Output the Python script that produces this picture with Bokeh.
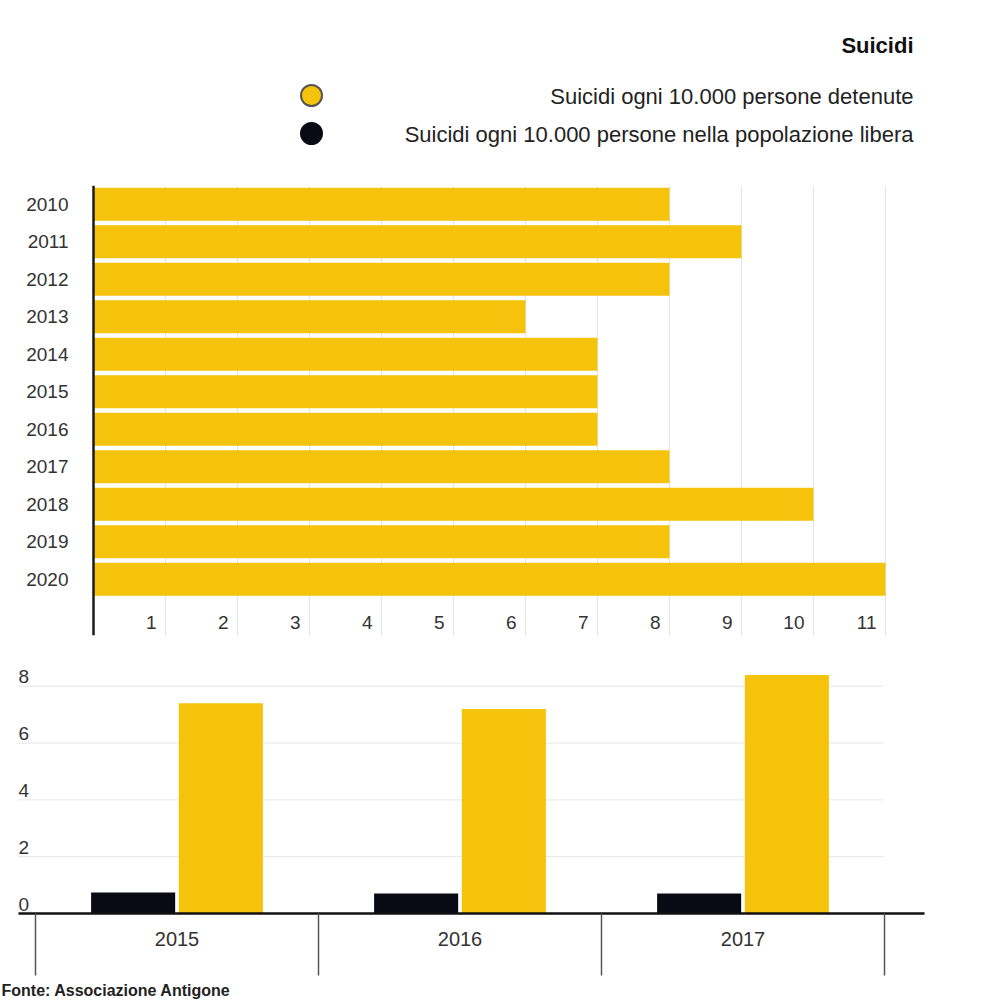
from bokeh.plotting import figure
from bokeh.layouts import column
from bokeh.models import Range1d, FactorRange, FixedTicker, Grid, Span
from bokeh.core.properties import value
from bokeh.embed import file_html
from bokeh.resources import INLINE

# ---------------- data ----------------
title = "Suicidi"
series_names = ["Suicidi ogni 10.000 persone detenute",
                "Suicidi ogni 10.000 persone nella popolazione libera"]
series_colors = ["#F5C30C", "#0A0A14"]

years = ["2010", "2011", "2012", "2013", "2014", "2015",
         "2016", "2017", "2018", "2019", "2020"]
rate_detenuti = [8, 9, 8, 6, 7, 7, 7, 8, 10, 8, 11]
x_ticks = [1, 2, 3, 4, 5, 6, 7, 8, 9, 10, 11]
x_tick_labels = ["1", "2", "3", "4", "5", "6", "7", "8", "9", "10", "11"]

cmp_years = ["2015", "2016", "2017"]
cmp_detenuti = [7.4, 7.2, 8.4]
cmp_libera = [0.74, 0.7, 0.7]
cmp_ticks = [2, 4, 6, 8]
cmp_tick_labels = ["0", "2", "4", "6", "8"]
cmp_label_values = [0, 2, 4, 6, 8]

source_text = "Fonte: Associazione Antigone"

FONT = "Liberation Sans"
TXT = "#333333"
YELLOW, BLACK = series_colors
W = 991

# ---------------- header (title + legend) ----------------
h = figure(width=W, height=170, x_range=Range1d(0, W), y_range=Range1d(170, 0),
           x_axis_type=None, y_axis_type=None, min_border=0,
           output_backend="svg", toolbar_location=None)
h.grid.visible = False
h.outline_line_color = None
h.text(x=[913], y=[45], text=[title], text_align="right", text_baseline="middle",
       text_font=value(FONT), text_font_style="bold", text_font_size="22px", text_color="#111111")
h.scatter(x=[311, 311], y=[95, 133], size=21, fill_color=series_colors,
          line_color=["#555555", BLACK], line_width=2)
h.text(x=[913, 913], y=[96, 134], text=series_names, text_align="right", text_baseline="middle",
       text_font=value(FONT), text_font_size="22px", text_color="#222222")

# ---------------- top: horizontal bars ----------------
UX = 72.0  # px per unit
factors = [" "] + years[::-1]
p1 = figure(width=W, height=475,
            x_range=Range1d(-93 / UX, (W - 93) / UX),
            y_range=FactorRange(factors=factors, range_padding=0),
            x_axis_type=None, y_axis_type=None,
            min_border_left=0, min_border_right=0, min_border_top=15, min_border_bottom=10,
            output_backend="svg", toolbar_location=None)
p1.outline_line_color = None
p1.add_layout(Grid(dimension=0, ticker=FixedTicker(ticks=x_ticks),
                   grid_line_color="#e4e4e4", grid_line_width=1))
p1.hbar(y=years, left=0, right=rate_detenuti, height=0.88, fill_color=YELLOW, line_color=None)
p1.add_layout(Span(location=0, dimension="height", line_color="#1a1a1a", line_width=2.5))
p1.text(x=[0] * len(years), y=years, text=years, text_align="right", text_baseline="middle",
        x_offset=-25, text_font=value(FONT), text_font_size="19px", text_color=TXT)
p1.text(x=x_ticks, y=[" "] * len(x_ticks), text=x_tick_labels, text_align="right",
        text_baseline="middle", x_offset=-9, y_offset=6,
        text_font=value(FONT), text_font_size="19px", text_color=TXT)

# ---------------- bottom: grouped vertical bars ----------------
PXX = 283.0   # px per category
PXY = 28.4    # px per unit
x0 = -0.5 - 35 / PXX
x1 = x0 + W / PXX
y_top = (913 - 645) / PXY
y_bot = -(1000 - 913) / PXY
p2 = figure(width=W, height=355, x_range=Range1d(x0, x1), y_range=Range1d(y_bot, y_top),
            x_axis_type=None, y_axis_type=None, min_border=0,
            output_backend="svg", toolbar_location=None)
p2.grid.visible = False
p2.outline_line_color = None

left_edge = x0 + 18 / PXX
grid_end = 2.5 - 1 / PXX
base_end = 2.5 + 40 / PXX
n = len(cmp_years)
xs = list(range(n))

p2.segment(x0=[left_edge] * len(cmp_ticks), x1=[grid_end] * len(cmp_ticks), y0=cmp_ticks, y1=cmp_ticks,
           line_color="#e6e6e6", line_width=1)
p2.text(x=[left_edge] * len(cmp_label_values), y=cmp_label_values, text=cmp_tick_labels,
        text_align="left", text_baseline="bottom", y_offset=-3,
        text_font=value(FONT), text_font_size="19px", text_color=TXT)

off, bw = 0.155, 0.297
p2.vbar(x=[i - off for i in xs], bottom=0, top=cmp_libera, width=bw, fill_color=BLACK, line_color=None)
p2.vbar(x=[i + off for i in xs], bottom=0, top=cmp_detenuti, width=bw, fill_color=YELLOW, line_color=None)

p2.segment(x0=[left_edge], x1=[base_end], y0=[0], y1=[0], line_color="#111111", line_width=2.5)
seps = [i - 0.5 for i in range(n + 1)]
p2.segment(x0=seps, x1=seps, y0=[0] * len(seps), y1=[-62 / PXY] * len(seps),
           line_color="#555555", line_width=1.5)
p2.text(x=xs, y=[0] * n, text=cmp_years, text_align="center", text_baseline="middle", y_offset=25,
        text_font=value(FONT), text_font_size="20px", text_color=TXT)
p2.text(x=[x0 + 1 / PXX], y=[-(981 - 913) / PXY], text=[source_text], text_align="left",
        text_baseline="top", text_font=value(FONT), text_font_style="bold",
        text_font_size="16px", text_color="#222222")

layout = column(h, p1, p2, spacing=0)
open("out.html", "w").write(file_html(layout, INLINE))
